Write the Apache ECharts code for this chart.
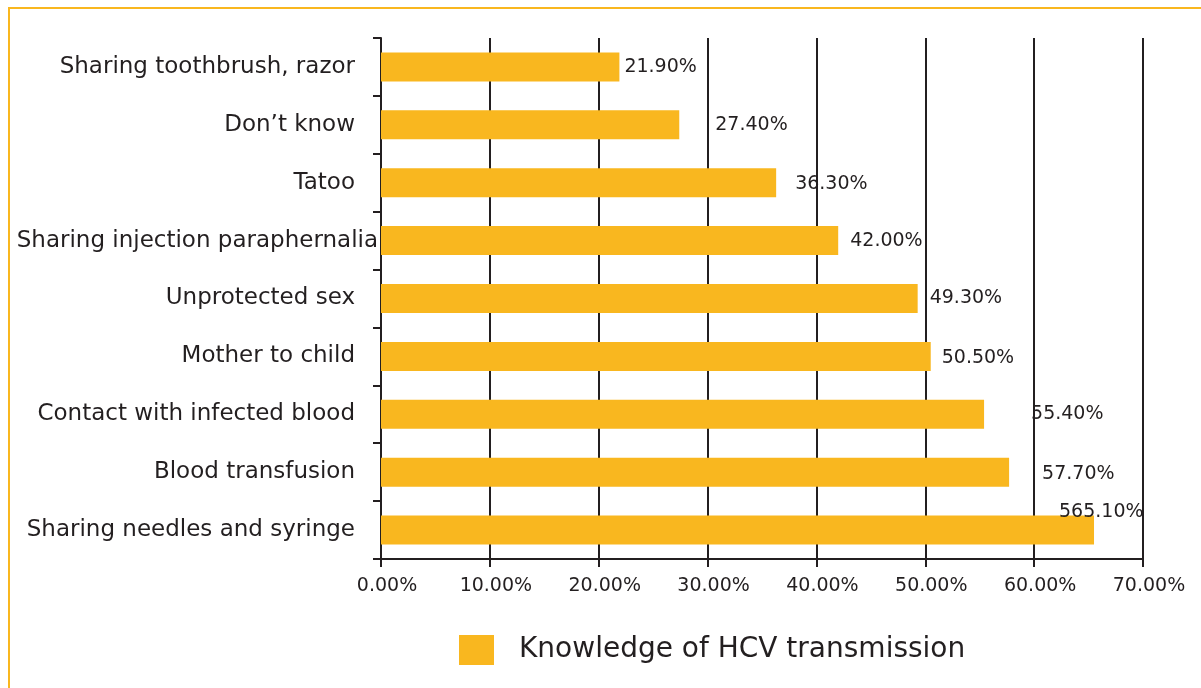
<!DOCTYPE html>
<html>
<head>
<meta charset="utf-8">
<title>Knowledge of HCV transmission</title>
<script src="https://cdn.jsdelivr.net/npm/echarts@6/dist/echarts.min.js"></script>
<style>
  html, body { margin: 0; padding: 0; background: #fff; }
  #hcv_bar_chart { width: 1201px; height: 688px; }
</style>
</head>
<body>
<div id="hcv_bar_chart"></div>
<script>
// categories, top to bottom as in the figure
const categories = [
  'Sharing toothbrush, razor',
  'Don’t know',
  'Tatoo',
  'Sharing injection paraphernalia',
  'Unprotected sex',
  'Mother to child',
  'Contact with infected blood',
  'Blood transfusion',
  'Sharing needles and syringe'
]
const values = [21.9, 27.4, 36.3, 42.0, 49.3, 50.5, 55.4, 57.7, 65.5]
// label text as printed in the figure (last one keeps its typo)
const valueLabels = ['21.90%', '27.40%', '36.30%', '42.00%', '49.30%', '50.50%', '55.40%', '57.70%', '565.10%']
const seriesName = 'Knowledge of HCV transmission'
const xMin = 0
const xMax = 70
const xStep = 10

const ink = '#231f20'
const gold = '#F9B71F'
const font = 'DejaVu Sans'

// label nudges so the value labels sit where the original has them
const labelOffsets = [[5, 0], [36, 0], [19, 1], [12, 0], [12, 0], [11, 2], [47, 0], [33, 2], [-35, -18]]

const chart = echarts.init(document.getElementById('hcv_bar_chart'))

const yData = categories.map(name => {
  // this one is set tight against the axis in the original
  if (name === 'Sharing injection paraphernalia') {
    return { value: name, textStyle: { padding: 0 } }
  }
  return name
})

chart.setOption({
  animation: false,
  textStyle: { fontFamily: font, color: ink },
  graphic: [{
    type: 'rect',
    shape: { x: 9, y: 8, width: 1400, height: 900 },
    style: { fill: 'none', stroke: gold, lineWidth: 2 },
    silent: true
  }],
  grid: { left: 381, right: 58, top: 38, bottom: 129 },
  xAxis: {
    type: 'value',
    min: xMin,
    max: xMax,
    interval: xStep,
    axisLine: { show: true, lineStyle: { color: ink, width: 2 } },
    axisTick: { show: true, length: 8, lineStyle: { color: ink, width: 2 } },
    splitLine: { show: true, lineStyle: { color: ink, width: 2 } },
    axisLabel: {
      color: ink,
      fontFamily: font,
      fontSize: 19,
      margin: 18,
      padding: [0, 0, 0, 12],
      formatter: v => v.toFixed(2) + '%'
    }
  },
  yAxis: {
    type: 'category',
    inverse: true,
    data: yData,
    axisLine: { show: true, lineStyle: { color: ink, width: 2 } },
    axisTick: { show: true, length: 8, lineStyle: { color: ink, width: 2 } },
    axisLabel: {
      color: ink,
      fontFamily: font,
      fontSize: 23,
      margin: 3,
      padding: [0, 23, 0, 0]
    }
  },
  legend: {
    data: [seriesName],
    left: 454,
    top: 630,
    icon: 'rect',
    itemWidth: 35,
    itemHeight: 30,
    textStyle: { color: ink, fontFamily: font, fontSize: 28, padding: [0, 0, 0, 20] }
  },
  series: [{
    name: seriesName,
    type: 'bar',
    barWidth: 29,
    itemStyle: { color: gold },
    label: {
      show: true,
      position: 'right',
      distance: 0,
      color: ink,
      fontFamily: font,
      fontSize: 19,
      formatter: p => valueLabels[p.dataIndex]
    },
    data: values.map((v, i) => ({ value: v, label: { offset: labelOffsets[i] } }))
  }]
})
</script>
</body>
</html>
